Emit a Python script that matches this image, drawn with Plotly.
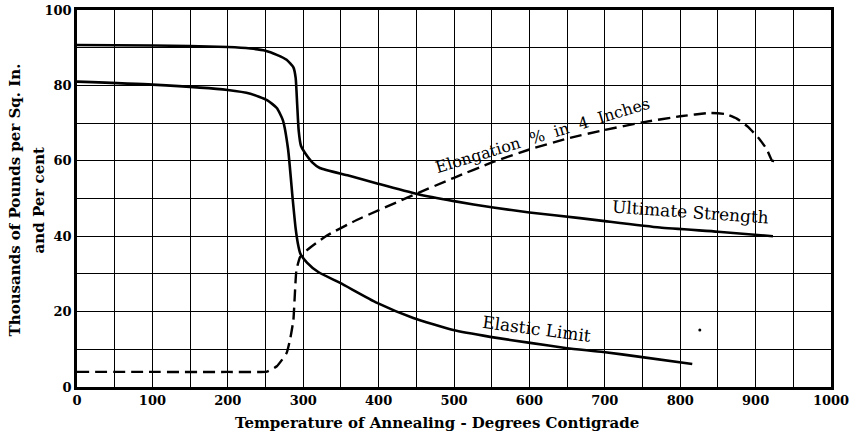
import plotly.graph_objects as go

# Temperature of annealing (deg C) and the three curves read from the plate
ultimate_x = [0, 100, 200, 230, 250, 265, 278, 287, 290, 292, 294, 297, 302, 312, 322, 360, 398, 451,
              500, 552, 600, 667, 700, 773, 850, 923]
ultimate_y = [90.7, 90.6, 90.2, 89.8, 89.2, 88.1, 86.8, 84.8, 82, 75, 68, 64, 62.2, 59.6, 58.1, 56.1, 54.0, 51.2,
              49.3, 47.6, 46.3, 44.8, 44.0, 42.3, 41.2, 40.0]

elastic_x = [0, 100, 200, 230, 252, 265, 273, 280, 286, 290, 293, 296, 305, 320, 349, 398, 446, 499,
             548, 601, 650, 698, 747, 816]
elastic_y = [81, 80.2, 78.8, 77.8, 76.1, 74, 70.8, 63, 50, 42, 38, 35.5, 33, 30.5, 27.6, 22.3, 18.3, 15.1,
             13.3, 11.7, 10.3, 9.3, 8.0, 6.1]

elong_x = [0, 100, 200, 252, 265, 278, 283, 287, 291, 296, 305, 330, 371, 446, 500, 552, 600, 650,
           700, 750, 800, 840, 860, 875, 890, 905, 915, 922, 928]
elong_y = [4, 4, 4, 4.1, 5.5, 9, 13, 17.8, 31, 34.5, 36.3, 40, 44.3, 50.9, 55.5, 59.7, 63, 65.9,
           68.2, 70.2, 71.8, 72.7, 72.4, 71.2, 69, 65.8, 63, 60, 60]

speck_x = [826]
speck_y = [15.1]

x_ticks = [0, 100, 200, 300, 400, 500, 600, 700, 800, 900, 1000]
y_ticks = [0, 20, 40, 60, 80, 100]

serif = "DejaVu Serif"

fig = go.Figure()

fig.add_trace(go.Scatter(x=ultimate_x, y=ultimate_y, mode="lines", name="Ultimate Strength",
                         line=dict(color="black", width=2.6, shape="spline", smoothing=0.5)))
fig.add_trace(go.Scatter(x=elastic_x, y=elastic_y, mode="lines", name="Elastic Limit",
                         line=dict(color="black", width=2.6, shape="spline", smoothing=0.5)))
fig.add_trace(go.Scatter(x=elong_x, y=elong_y, mode="lines", name="Elongation",
                         line=dict(color="black", width=2.4, dash="12px,6px", shape="spline", smoothing=0.4)))
fig.add_trace(go.Scatter(x=speck_x, y=speck_y, mode="markers",
                         marker=dict(color="black", size=3)))

fig.add_annotation(x=813, y=46.4, text="Ultimate Strength", showarrow=False, textangle=4,
                   font=dict(family=serif, size=17, color="black"))
fig.add_annotation(x=610, y=15.3, text="Elastic Limit", showarrow=False, textangle=7.5,
                   font=dict(family=serif, size=17, color="black"))
fig.add_annotation(x=617, y=66.8, text="Elongation  %  in  4  Inches", showarrow=False, textangle=-17,
                   font=dict(family=serif, size=16, color="black"))

# axis titles placed by hand
fig.add_annotation(xref="paper", yref="paper", x=0, y=0.495, xshift=-62, textangle=-90,
                   xanchor="center", yanchor="middle",
                   text="Thousands of Pounds per Sq. In.", showarrow=False,
                   font=dict(family=serif, size=15, color="black", weight="bold"))
fig.add_annotation(xref="paper", yref="paper", x=0, y=0.495, xshift=-38, textangle=-90,
                   xanchor="center", yanchor="middle",
                   text="and Per cent", showarrow=False,
                   font=dict(family=serif, size=15, color="black", weight="bold"))
fig.add_annotation(xref="paper", yref="paper", x=0.477, y=0, yshift=-36,
                   xanchor="center", yanchor="middle",
                   text="Temperature of Annealing - Degrees Contigrade", showarrow=False,
                   font=dict(family=serif, size=15, color="black", weight="bold"))

fig.update_layout(
    width=857,
    height=435,
    margin=dict(l=77, r=26, t=10, b=48, autoexpand=False),
    paper_bgcolor="white",
    plot_bgcolor="white",
    showlegend=False,
    font=dict(family=serif, color="black"),
)

fig.update_xaxes(
    range=[0, 1000],
    tickvals=x_ticks,
    ticks="",
    tickfont=dict(family=serif, size=13, color="black", weight="bold"),
    showgrid=True,
    gridcolor="black",
    gridwidth=1.3,
    minor=dict(dtick=50, showgrid=True, gridcolor="black", gridwidth=1.3),
    zeroline=False,
    showline=True,
    linecolor="black",
    linewidth=2.5,
    mirror=True,
    automargin=False,
)

fig.update_yaxes(
    range=[0, 100],
    tickvals=y_ticks,
    ticks="",
    tickfont=dict(family=serif, size=13, color="black", weight="bold"),
    showgrid=True,
    gridcolor="black",
    gridwidth=1.3,
    minor=dict(dtick=10, showgrid=True, gridcolor="black", gridwidth=1.3),
    zeroline=False,
    showline=True,
    linecolor="black",
    linewidth=2.5,
    mirror=True,
    automargin=False,
)

# drop the browser's default body margin so the figure sits at the page corner
fig.write_html("out.html", config={"displayModeBar": False},
               post_script="document.body.style.margin = '0px';")
